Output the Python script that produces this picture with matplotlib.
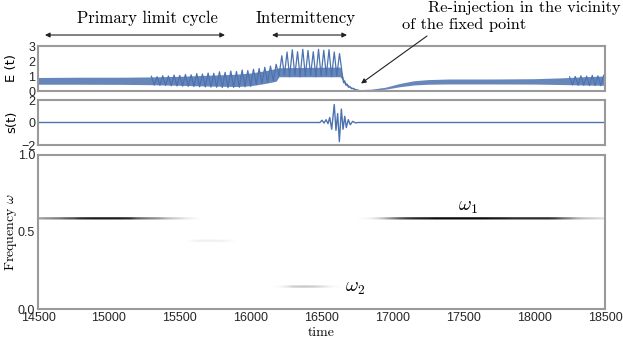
import numpy as np
import matplotlib
matplotlib.use('Agg')
import matplotlib.pyplot as plt
from matplotlib.transforms import blended_transform_factory

plt.rcParams['mathtext.fontset'] = 'cm'
plt.rcParams['axes.unicode_minus'] = True

# ---------------- data ----------------
# E(t): envelope of the fast oscillation (dense band)
band_t = [14500, 14800, 15100, 15300, 15500, 15700, 15900, 16000, 16100, 16180,
          16200, 16630, 16645, 16660, 16680, 16700, 16730, 16760, 16850, 16950,
          17050, 17150, 17250, 17400, 17700, 18000, 18200, 18350, 18500]
band_lo = [0.45, 0.45, 0.44, 0.42, 0.38, 0.33, 0.30, 0.35, 0.50, 0.65,
           0.95, 0.95, 0.80, 0.50, 0.35, 0.22, 0.10, 0.03, 0.04, 0.12,
           0.28, 0.40, 0.45, 0.47, 0.47, 0.46, 0.43, 0.40, 0.38]
band_hi = [0.90, 0.92, 0.92, 0.94, 0.98, 1.05, 1.12, 1.20, 1.35, 1.50,
           1.55, 1.60, 1.20, 0.65, 0.50, 0.32, 0.18, 0.09, 0.12, 0.25,
           0.50, 0.68, 0.76, 0.80, 0.80, 0.82, 0.88, 0.95, 1.00]

# E(t): visible beats (growth, intermittency bursts, re-injection)
beat_t = [15300, 15320, 15340, 15360, 15380, 15400, 15420, 15440, 15460, 15480,
          15500, 15520, 15540, 15560, 15580, 15600, 15620, 15640, 15660, 15680,
          15700, 15720, 15740, 15760, 15780, 15800, 15820, 15840, 15860, 15880,
          15900, 15920, 15940, 15960, 15980, 16000, 16020, 16040, 16060, 16080,
          16100, 16120, 16140, 16160, 16180, 16200,
          16220, 16238, 16257, 16275, 16294, 16312, 16331, 16349, 16368, 16386,
          16405, 16423, 16442, 16460, 16479, 16497, 16516, 16534, 16553, 16571,
          16590, 16608, 16627, 16640,
          16648, 16656, 16664, 16672, 16680, 16690, 16700, 16712, 16725, 16740, 16760]
beat_e = [0.98, 0.40, 0.95, 0.38, 1.02, 0.38, 1.00, 0.35, 1.06, 0.34,
          1.04, 0.32, 1.10, 0.31, 1.08, 0.30, 1.16, 0.28, 1.13, 0.27,
          1.20, 0.26, 1.18, 0.25, 1.28, 0.23, 1.24, 0.22, 1.33, 0.24,
          1.30, 0.25, 1.40, 0.28, 1.36, 0.32, 1.45, 0.42, 1.50, 0.50,
          1.58, 0.58, 1.66, 0.68, 1.78, 1.00,
          2.35, 1.05, 2.60, 0.95, 2.75, 1.05, 2.62, 0.95, 2.78, 1.00,
          2.70, 1.05, 2.62, 0.95, 2.78, 1.00, 2.72, 1.05, 2.76, 0.95,
          2.60, 1.00, 2.50, 1.60,
          0.90, 0.55, 0.68, 0.38, 0.45, 0.25, 0.30, 0.15, 0.18, 0.08, 0.05]

# E(t): small beats at the end of the record
end_t = [18250, 18270, 18290, 18310, 18330, 18350, 18370, 18390, 18410, 18430, 18450, 18470, 18490]
end_e = [0.95, 0.40, 0.98, 0.38, 1.02, 0.38, 1.00, 0.36, 1.05, 0.36, 1.02, 0.35, 1.05]

# s(t)
s_t = [14500, 16489, 16503, 16518, 16532, 16546, 16558, 16572, 16590, 16602,
       16614, 16626, 16640, 16652, 16664, 16675, 16689, 16703, 16720, 16739,
       16760, 18500]
s_v = [0.0, 0.0, 0.2, -0.05, 0.25, -0.1, 0.45, -0.6, 1.6, -0.7,
       0.8, -1.7, 1.2, -0.6, 0.55, -0.45, 0.25, -0.2, 0.1, -0.03,
       0.0, 0.0]

# frequency ridges (time, intensity) at frequency omega
ridge_a_w = 0.585
ridge_a_t = [14500, 14550, 14600, 14650, 14700, 14750, 14800, 14850, 14900, 14950,
             15000, 15050, 15100, 15150, 15200, 15250, 15300, 15350, 15400, 15450,
             15500, 15550, 15600]
ridge_a_i = [0.45, 0.50, 0.55, 0.60, 0.70, 0.75, 0.85, 0.88, 0.90, 0.90,
             0.90, 0.90, 0.88, 0.85, 0.70, 0.62, 0.55, 0.50, 0.40, 0.32,
             0.25, 0.15, 0.08]
ridge_b_w = 0.44
ridge_b_t = [15600, 15650, 15700, 15750, 15800, 15850]
ridge_b_i = [0.08, 0.12, 0.12, 0.12, 0.10, 0.06]
ridge_c_w = 0.143
ridge_c_t = [16200, 16250, 16300, 16350, 16400, 16450, 16500, 16550, 16600]
ridge_c_i = [0.05, 0.15, 0.30, 0.32, 0.33, 0.30, 0.22, 0.12, 0.04]
ridge_d_w = 0.585
ridge_d_t = [16800, 16850, 16900, 16950, 17000, 17050, 17100, 17150, 17200, 17250,
             17300, 17350, 17400, 17450, 17500, 17550, 17600, 17650, 17700, 17750,
             17800, 17850, 17900, 17950, 18000, 18050, 18100, 18150, 18200, 18250,
             18300, 18350, 18400, 18450, 18500]
ridge_d_i = [0.05, 0.12, 0.25, 0.40, 0.55, 0.70, 0.80, 0.85, 0.88, 0.90,
             0.95, 0.95, 0.95, 0.95, 0.95, 0.95, 0.95, 0.95, 0.92, 0.90,
             0.88, 0.85, 0.85, 0.85, 0.85, 0.85, 0.85, 0.80, 0.65, 0.55,
             0.42, 0.35, 0.30, 0.25, 0.20]

xticks = [14500, 15000, 15500, 16000, 16500, 17000, 17500, 18000, 18500]

# ---------------- figure ----------------
W, H = 623, 343
fig = plt.figure(figsize=(W / 100, H / 100), dpi=100)

def axrect(l, t, r, b):
    return [l / W, 1 - b / H, (r - l) / W, (b - t) / H]

ax1 = fig.add_axes(axrect(38, 46, 605, 91))
ax2 = fig.add_axes(axrect(38, 100, 605, 145))
ax3 = fig.add_axes(axrect(38, 155, 605, 309))

blue = '#4C72B0'
spine_c = '#9a9a9a'
serif = 'cmr10'

for ax in (ax1, ax2, ax3):
    for sp in ax.spines.values():
        sp.set_color(spine_c)
        sp.set_linewidth(1.5)
    ax.tick_params(length=0, pad=2, colors='#262626')
    ax.set_xlim(14500, 18500)

# E(t)
ax1.fill_between(band_t, band_lo, band_hi, color=blue, alpha=0.85, lw=0)
ax1.plot(beat_t, beat_e, color=blue, lw=0.9)
ax1.plot(end_t, end_e, color=blue, lw=0.8)
ax1.set_ylim(0, 3)
ax1.set_yticks([0, 1, 2, 3])
ax1.set_xticks([])

# s(t)
ax2.plot(s_t, s_v, color=blue, lw=1.0)
ax2.set_ylim(-2, 2)
ax2.set_yticks([-2, 0, 2])
ax2.set_xticks([])

# spectrogram of ridges
dt, dw = 50, 0.005
ncol = int(round((18500 - 14500) / dt)) + 1
nrow = int(round(1.0 / dw)) + 1
img = np.zeros((nrow, ncol))
for w, ts, vals in [(ridge_a_w, ridge_a_t, ridge_a_i), (ridge_b_w, ridge_b_t, ridge_b_i),
                    (ridge_c_w, ridge_c_t, ridge_c_i), (ridge_d_w, ridge_d_t, ridge_d_i)]:
    r = int(round(w / dw))
    for t, v in zip(ts, vals):
        c = int(round((t - 14500) / dt))
        for rr in (r - 1, r, r + 1):
            img[rr, c] = max(img[rr, c], v)
ax3.imshow(img, origin='lower', aspect='auto', cmap='Greys', vmin=0, vmax=1,
           interpolation='bilinear',
           extent=[14500 - dt / 2, 18500 + dt / 2, -dw / 2, 1 + dw / 2])
ax3.set_xlim(14500, 18500)
ax3.set_ylim(0, 1)
ax3.set_yticks([0.0, 0.5, 1.0])
ax3.set_yticklabels(['0.0', '0.5', '1.0'])
ax3.set_xticks(xticks)
ax3.set_xticklabels([str(x) for x in xticks])
ax3.set_xlabel('time', fontsize=10, family=serif, labelpad=2)
ax3.text(17530, 0.665, r'$\omega_1$', fontsize=14, ha='center', va='center')
ax3.text(16665, 0.14, r'$\omega_2$', fontsize=14, ha='left', va='center')

for ax in (ax1, ax2, ax3):
    for lab in ax.get_xticklabels() + ax.get_yticklabels():
        lab.set_fontfamily(['Liberation Sans', 'DejaVu Sans'])
        lab.set_fontsize(9)

# y labels
fig.text(12 / W, 1 - 68 / H, 'E (t)', rotation=90, ha='center', va='center',
         fontsize=9.5, family=['DejaVu Sans'])
fig.text(12 / W, 1 - 122 / H, 's(t)', rotation=90, ha='center', va='center',
         fontsize=9.5, family=['DejaVu Sans'])
fig.text(11 / W, 1 - 232 / H, r'$\mathrm{Frequency}\ \omega$', rotation=90,
         ha='center', va='center', fontsize=10)

# annotations
tr = blended_transform_factory(ax1.transData, ax1.transAxes)
ax1.annotate('', xy=(14549, 1.244), xytext=(15819, 1.244), xycoords=tr, textcoords=tr,
             arrowprops=dict(arrowstyle='<|-|>', color='#222222', lw=0.8,
                             mutation_scale=7, shrinkA=0, shrinkB=0), annotation_clip=False)
ax1.annotate('', xy=(16151, 1.244), xytext=(16680, 1.244), xycoords=tr, textcoords=tr,
             arrowprops=dict(arrowstyle='<|-|>', color='#222222', lw=0.8,
                             mutation_scale=7, shrinkA=0, shrinkB=0), annotation_clip=False)
ax1.text(15269, 1.62, 'Primary limit cycle', transform=tr, ha='center', va='center',
         fontsize=12, family=serif)
ax1.text(16384, 1.62, 'Intermittency', transform=tr, ha='center', va='center',
         fontsize=12, family=serif)
fig.text(428 / W, 1 - 8 / H, 'Re-injection in the vicinity', ha='left', va='center',
         fontsize=11.8, family=serif)
fig.text(402 / W, 1 - 25 / H, 'of the fixed point', ha='left', va='center',
         fontsize=11.8, family=serif)
ax1.annotate('', xy=(16779, 0.5), xytext=(427 / W, 1 - 36 / H), xycoords='data',
             textcoords='figure fraction',
             arrowprops=dict(arrowstyle='-|>', color='#222222', lw=0.8,
                             mutation_scale=7, shrinkA=0, shrinkB=0), annotation_clip=False)

fig.savefig('out.png', dpi=100)
